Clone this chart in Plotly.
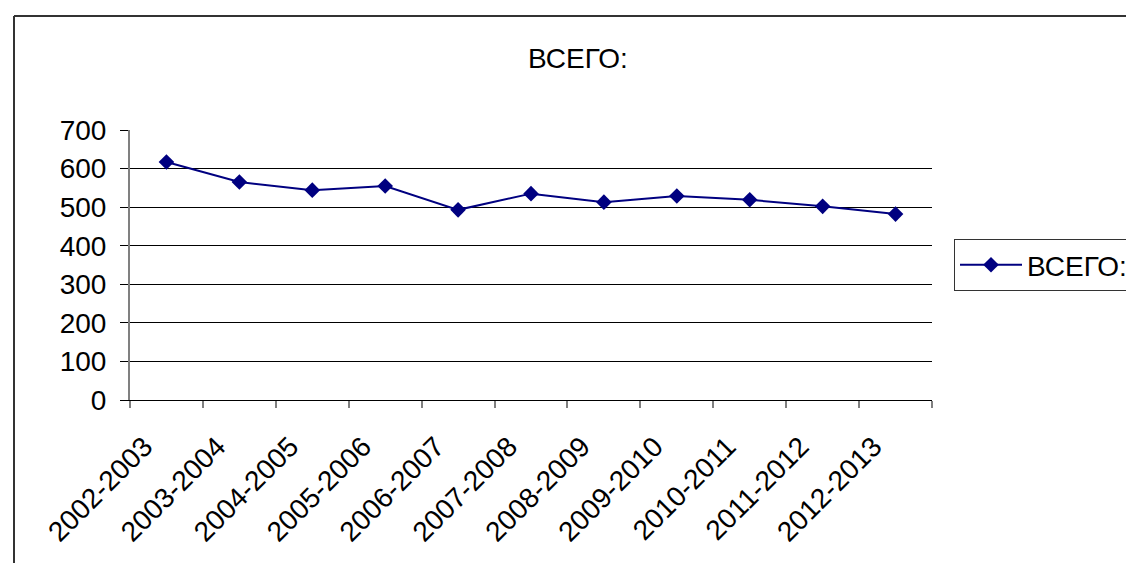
import plotly.graph_objects as go

categories = ["2002-2003", "2003-2004", "2004-2005", "2005-2006", "2006-2007",
              "2007-2008", "2008-2009", "2009-2010", "2010-2011", "2011-2012", "2012-2013"]
values = [617, 565, 544, 555, 493, 535, 513, 529, 519, 502, 482]
series_name = "ВСЕГО:"
y_ticks = [0, 100, 200, 300, 400, 500, 600, 700]

# page body has an 8px margin; compensate
OFF = 8
W, H = 1134 - OFF, 563 - OFF
L, T = 130 - OFF, 130 - OFF
R = W - (932 - OFF)
B = H - (400 - OFF)
pw, ph = W - L - R, H - T - B

fig = go.Figure()
fig.add_trace(go.Scatter(
    x=categories, y=values, name=series_name, mode="lines+markers",
    line=dict(color="#000080", width=2),
    marker=dict(symbol="diamond", size=12, color="#000080"),
))

font = dict(family="Liberation Sans, Arial, sans-serif", size=28, color="black")

# outer chart-area border (left and top visible)
bx = (14 - 130) / pw
by = (400 - 16) / ph
fig.add_shape(type="line", xref="paper", yref="paper", x0=bx, x1=bx, y0=-1, y1=by,
              line=dict(color="#333333", width=2))
fig.add_shape(type="line", xref="paper", yref="paper", x0=bx, x1=2, y0=by, y1=by,
              line=dict(color="#333333", width=2))

fig.update_layout(
    width=W, height=H,
    margin=dict(l=L, r=R, t=T, b=B, autoexpand=False),
    paper_bgcolor="white", plot_bgcolor="white",
    font=font,
    title=dict(text=series_name, x=(578 - OFF) / W, xanchor="center", xref="container",
               y=1 - (58 - OFF) / H, yanchor="middle", yref="container", font=font),
    showlegend=True,
    legend=dict(x=(954 - 130) / pw, xanchor="left", y=0.5, yanchor="middle",
                bordercolor="#333333", borderwidth=1, bgcolor="white",
                font=font, itemwidth=62),
    xaxis=dict(type="category", range=[-0.5, len(categories) - 0.5],
               tickson="boundaries", ticks="outside", ticklen=7, tickcolor="#808080",
               tickwidth=2, showgrid=False, showline=True, linecolor="black", linewidth=1,
               tickangle=-45, tickfont=font, zeroline=False, automargin=False,
               ticklabelstandoff=18, ticklabelshift=-22),
    yaxis=dict(range=[0, 700], tickvals=y_ticks, ticks="outside", ticklen=8,
               tickcolor="black", tickwidth=1, showgrid=True, gridcolor="black",
               gridwidth=1, showline=True, linecolor="#808080", linewidth=2,
               zeroline=False, tickfont=font, ticklabelstandoff=8, automargin=False),
)

fig.write_html("out.html")
